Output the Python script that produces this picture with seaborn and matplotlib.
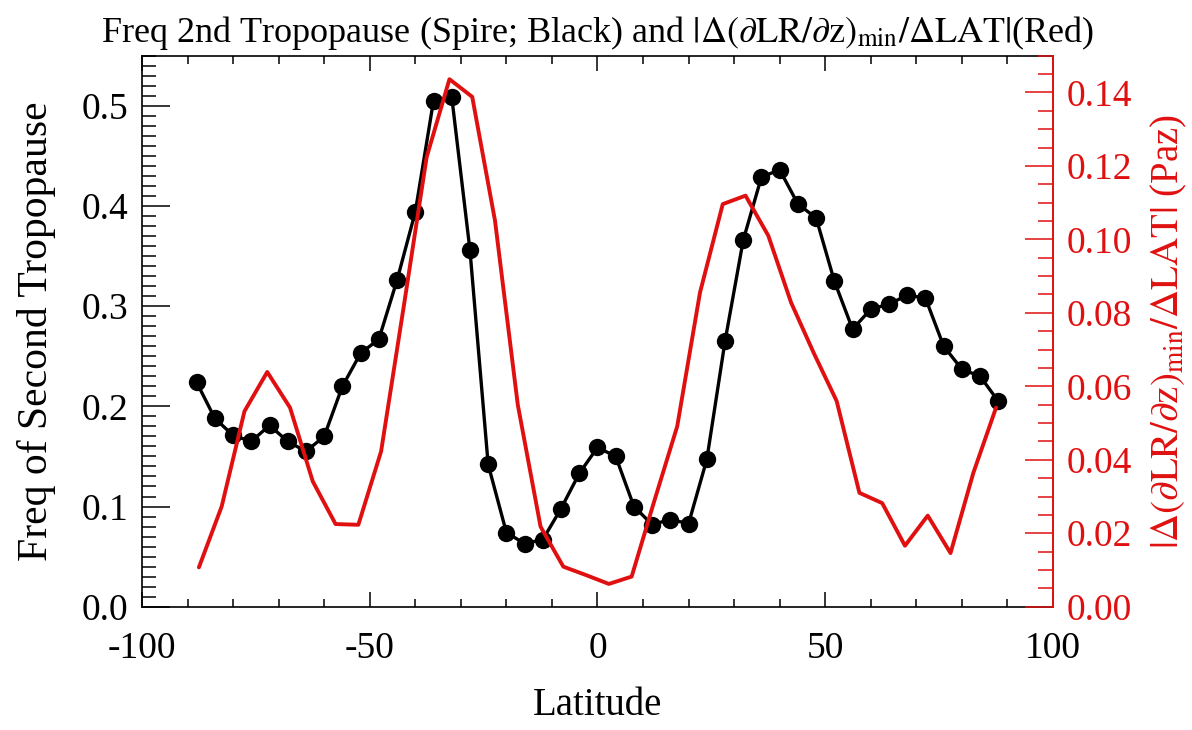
import numpy as np
import pandas as pd
import matplotlib
matplotlib.use("Agg")
import matplotlib.pyplot as plt
from matplotlib.ticker import MultipleLocator, FormatStrFormatter
import seaborn as sns

# ---- data ----
lat_black = [-88, -84, -80, -76, -72, -68, -64, -60, -56, -52, -48, -44, -40, -36, -32,
             -28, -24, -20, -16, -12, -8, -4, 0, 4, 8, 12, 16, 20, 24, 28,
             32, 36, 40, 44, 48, 52, 56, 60, 64, 68, 72, 76, 80, 84, 88]
freq_second = [0.224, 0.188, 0.171, 0.165, 0.181, 0.165, 0.155, 0.170, 0.220, 0.253,
               0.267, 0.326, 0.394, 0.505, 0.509, 0.356, 0.142, 0.074, 0.063, 0.067,
               0.098, 0.133, 0.159, 0.150, 0.100, 0.082, 0.087, 0.083, 0.147, 0.265,
               0.366, 0.429, 0.436, 0.402, 0.388, 0.325, 0.277, 0.297, 0.302, 0.311,
               0.308, 0.260, 0.237, 0.230, 0.205]

lat_red = [-87.5, -82.5, -77.5, -72.5, -67.5, -62.5, -57.5, -52.5, -47.5, -42.5,
           -37.5, -32.5, -27.5, -22.5, -17.5, -12.5, -7.5, -2.5, 2.5, 7.5,
           12.5, 17.5, 22.5, 27.5, 32.5, 37.5, 42.5, 47.5, 52.5, 57.5,
           62.5, 67.5, 72.5, 77.5, 82.5, 87.5]
dlr_dlat = [0.0107, 0.0273, 0.0532, 0.0639, 0.0542, 0.0341, 0.0225, 0.0223, 0.0423, 0.0820,
            0.1224, 0.1436, 0.1388, 0.1051, 0.0550, 0.0218, 0.0109, 0.0086, 0.0062, 0.0082,
            0.0289, 0.0491, 0.0855, 0.1096, 0.1119, 0.1010, 0.0828, 0.0690, 0.0560, 0.0310,
            0.0282, 0.0166, 0.0248, 0.0146, 0.0364, 0.0542]

x_ticks = [-100, -50, 0, 50, 100]

df_black = pd.DataFrame({"lat": lat_black, "freq": freq_second})
df_red = pd.DataFrame({"lat": lat_red, "val": dlr_dlat})

RED = "#e01010"

sns.set_theme(style="ticks")
plt.rcParams["font.family"] = ["Liberation Serif", "DejaVu Serif"]
plt.rcParams["mathtext.fontset"] = "stix"
plt.rcParams["axes.linewidth"] = 1.2
plt.rcParams["axes.unicode_minus"] = False
plt.rcParams["text.color"] = "black"
plt.rcParams["axes.labelcolor"] = "black"
plt.rcParams["xtick.color"] = "black"
plt.rcParams["ytick.color"] = "black"
plt.rcParams["axes.edgecolor"] = "black"

fig = plt.figure(figsize=(11.92, 7.30), dpi=100)
ax = fig.add_axes([0.1191, 0.1689, 0.8834 - 0.1191, 0.9237 - 0.1689])
ax2 = ax.twinx()

sns.lineplot(data=df_black, x="lat", y="freq", ax=ax, color="black", linewidth=2.4,
             marker="o", markersize=12.5, markeredgecolor="black", markeredgewidth=0)
sns.lineplot(data=df_red, x="lat", y="val", ax=ax2, color=RED, linewidth=2.8)

ax.set_xlim(-100, 100)
ax.set_ylim(0, 0.55)
ax2.set_ylim(0, 0.15)
ax.set_xticks(x_ticks)
ax.xaxis.set_minor_locator(MultipleLocator(10))
ax.yaxis.set_major_locator(MultipleLocator(0.1))
ax.yaxis.set_minor_locator(MultipleLocator(0.01))
ax.yaxis.set_major_formatter(FormatStrFormatter("%.1f"))
ax2.yaxis.set_major_locator(MultipleLocator(0.02))
ax2.yaxis.set_minor_locator(MultipleLocator(0.005))
ax2.yaxis.set_major_formatter(FormatStrFormatter("%.2f"))

ax.tick_params(axis="x", which="major", direction="in", top=True, bottom=True,
               length=11, width=1.1, labelsize=27, pad=18, colors="black")
ax.tick_params(axis="x", which="minor", direction="in", top=True, bottom=True,
               length=6, width=1.1, colors="black")
ax.tick_params(axis="y", which="major", direction="in", left=True, right=False,
               length=20, width=1.1, labelsize=27, pad=10, colors="black")
ax.tick_params(axis="y", which="minor", direction="in", left=True, right=False,
               length=10, width=1.1, colors="black")
ax2.tick_params(axis="y", which="major", direction="in", length=20, width=1.1,
                labelsize=27, pad=10, colors=RED)
ax2.tick_params(axis="y", which="minor", direction="in", length=11, width=1.1,
                colors=RED)

for s in ["left", "top", "bottom"]:
    ax2.spines[s].set_visible(False)
ax2.spines["right"].set_color(RED)
ax2.spines["right"].set_linewidth(1.4)
ax.spines["right"].set_visible(False)

ax.set_xlabel("Latitude", fontsize=28, labelpad=15)
ax.set_ylabel("Freq of Second Tropopause", fontsize=30, labelpad=18)
ax2.set_ylabel(r"$|\Delta(\partial\mathrm{LR}/\partial\mathrm{z})_{\mathrm{min}}/\Delta\mathrm{LAT}|$ (Paz)",
               fontsize=28, color=RED, labelpad=12)
ax.set_title(r"Freq 2nd Tropopause (Spire; Black) and "
             r"$|\Delta(\partial\mathrm{LR}/\partial\mathrm{z})_{\mathrm{min}}/\Delta\mathrm{LAT}|$(Red)",
             fontsize=26, pad=10)

fig.savefig("out.png", dpi=100)
